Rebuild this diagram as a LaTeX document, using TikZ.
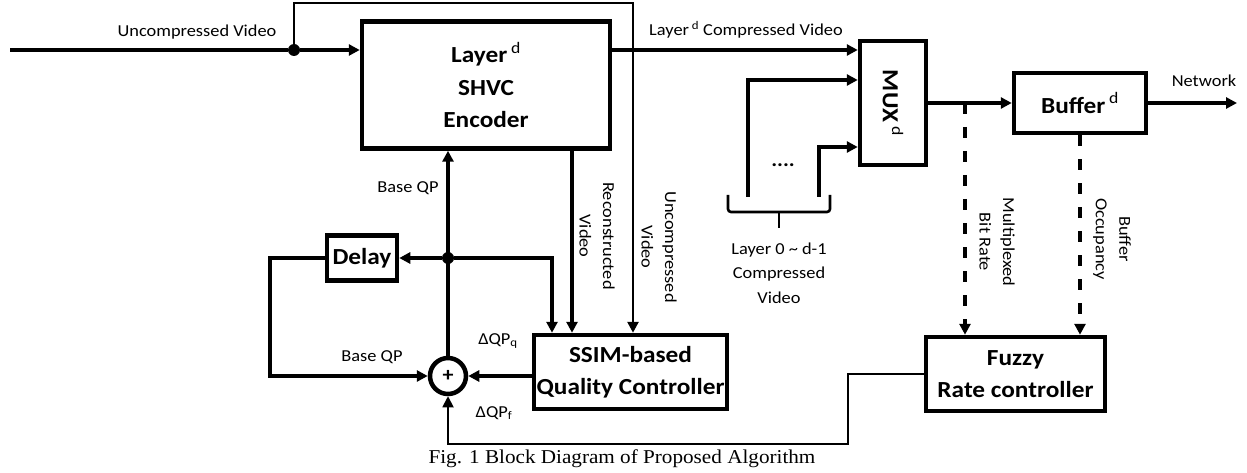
\documentclass[tikz,border=0pt]{standalone}
\usepackage{fontspec}
\setmainfont{Carlito}[FakeStretch=1.1]
\newfontfamily\capfont{Liberation Serif}[FakeStretch=1.08]
\usetikzlibrary{arrows.meta,calc}
\newcommand\dsup{\textsuperscript{\mdseries d}}
\tikzset{
  box/.style={draw, line width=4.5pt, inner sep=0pt, align=center,
    font=\fontsize{23}{32.5}\selectfont\bfseries},
  lbl/.style={font=\fontsize{16.7}{24.5}\selectfont, inner sep=0pt, align=center},
  rlbl/.style={lbl, rotate=-90, font=\fontsize{16.7}{23.5}\selectfont},
  conn/.style={line width=3.2pt},
  arr/.style={conn, -{Triangle[length=11pt,width=11pt]}},
  dasharr/.style={line width=4pt, dash pattern=on 11pt off 13pt,
    -{Triangle[length=11pt,width=11pt]}},
  jdot/.style={circle, fill, inner sep=0pt, minimum size=12pt},
}
\begin{document}
\begin{tikzpicture}[x=1pt,y=-1pt]
\useasboundingbox (0,0) rectangle (1247,473);
% blocks
\node[box, minimum width=248pt, minimum height=127pt] (enc) at (486,85) {Layer\,\dsup\\SHVC\\Encoder};
\node[box, minimum width=66pt, minimum height=124pt] (mux) at (893,103) {};
\node[rotate=-90, inner sep=0pt, font=\fontsize{23}{28}\selectfont\bfseries] (muxlbl) at (mux.center) {MUX\,\dsup};
\node[box, minimum width=132pt, minimum height=60pt] (buf) at (1080,103) {Buffer\,\dsup};
\node[box, minimum width=70pt, minimum height=45pt] (delay) at (362,258) {Delay};
\node[box, minimum width=193pt, minimum height=74pt] (ssim) at (630.5,372) {SSIM-based\\Quality Controller};
\node[box, minimum width=179pt, minimum height=74pt] (fuzzy) at (1015.5,374) {Fuzzy\\Rate controller};
\node[circle, draw, line width=4.5pt, minimum size=36pt, inner sep=0pt,
  font=\fontsize{20}{20}\selectfont\bfseries] (sum) at (448,376) {+};
% junctions and coordinates
\coordinate (in) at (10,50);
\node[jdot] (j1) at (294,50) {};
\coordinate (top) at (633,3);
\node[jdot] (j2) at (448,258) {};
\coordinate (rx) at (572,0);
\coordinate (qx) at (552,0);
\coordinate (dlc) at (270,376);
\coordinate (fz) at (848,444);
\coordinate (b1) at (748,197);
\coordinate (b2) at (819,197);
\coordinate (d1) at (965,103);
\coordinate (net) at (1237,103);
\coordinate (brl) at (728,195);
\coordinate (brr) at (830,195);
\coordinate (brm) at (779,212);
\coordinate (brt) at (779,228);
% connectors
\draw[conn] (in) -- (j1);
\draw[arr] (j1) -- (j1 -| enc.west);
\draw[arr, line width=2.6pt] (j1) |- (top) -- (top |- ssim.north);
\draw[arr] (enc.east |- j1) -- (mux.west |- j1);
\draw[arr] (b1) |- ($(mux.west)+(0,-23)$);
\draw[arr] (b2) |- ($(mux.west)+(0,44)$);
\draw[arr] (mux.east) -- (buf.west);
\draw[arr] (buf.east) -- (net);
\draw[dasharr] (d1) -- (d1 |- fuzzy.north);
\draw[dasharr] (buf.south) -- (buf.south |- fuzzy.north);
\draw[arr] (enc.south -| rx) -- (ssim.north -| rx);
\draw[arr] (sum.north) -- (enc.south -| sum.north);
\draw[arr] (j2) -- (delay.east);
\draw[arr] (j2) -| (ssim.north -| qx);
\draw[arr] (delay.west) -| (dlc) -- (sum.west);
\draw[arr] (sum.east -| ssim.west) -- (sum.east);
\draw[arr, line width=1.8pt] (fuzzy.west) -| (fz) -| (sum.south);
% brace
\draw[line width=2.6pt, rounded corners=3pt] (brl) |- (brm) -| (brr);
\draw[line width=2.6pt] (brm) -- (brt);
% labels
\node[lbl] (l1) at (197,32) {Uncompressed Video};
\node[lbl] (l2) at (746,30) {Layer\,\textsuperscript{d} Compressed Video};
\node[lbl] (l3) at (1204,81) {Network};
\node[lbl] (l4) at (408,188) {Base QP};
\node[lbl] (l5) at (372,357) {Base QP};
\node[lbl] (l6) at (498,341) {ΔQP\textsubscript{q}};
\node[lbl] (l7) at (494,413) {ΔQP\textsubscript{f}};
\node[rlbl] (l8) at (597,236) {Reconstructed\\Video};
\node[rlbl] (l9) at (659,247) {Uncompressed\\Video};
\node[rlbl] (l10) at (997,242) {Multiplexed\\Bit Rate};
\node[rlbl] (l11) at (1112,239) {Buffer\\Occupancy};
\node[lbl] (l12) at (779,273) {Layer 0 \textasciitilde{} d-1\\Compressed\\Video};
\node[lbl, font=\fontsize{20}{20}\selectfont\bfseries] (dots) at (783,165) {....};
\node[inner sep=0pt, font=\capfont\fontsize{19.6}{24}\selectfont] (cap) at (622,459) {Fig. 1 Block Diagram of Proposed Algorithm};
\end{tikzpicture}
\end{document}
